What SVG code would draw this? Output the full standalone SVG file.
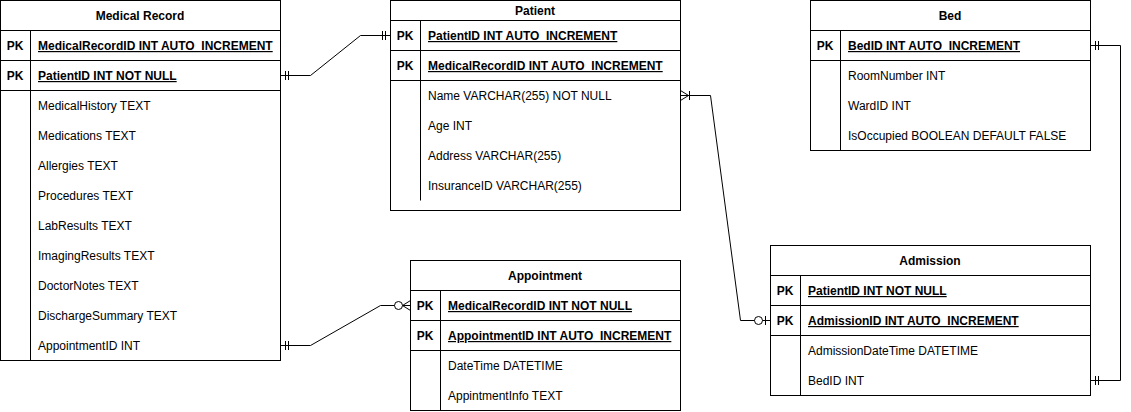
<svg xmlns="http://www.w3.org/2000/svg" width="1131" height="412" viewBox="0 0 1131 412">
<style>
.box{fill:#fff;stroke:#000;stroke-width:1}
.ln{fill:none;stroke:#000;stroke-width:1}
text{font-family:"Liberation Sans",Arial,sans-serif;font-size:12px;fill:#000}
.t{font-weight:bold;text-anchor:middle}
.pk{font-weight:bold;text-anchor:middle}
.k{font-weight:bold;text-decoration:underline}
.c{fill:none;stroke:#000;stroke-width:1}
</style>
<defs>
<marker id="mandOne" markerUnits="userSpaceOnUse" viewBox="-20 -10 22 20" refX="0" refY="0" markerWidth="22" markerHeight="20" orient="auto-start-reverse" overflow="visible">
<path d="M-5,-4.5V4.5M-8,-4.5V4.5" fill="none" stroke="#000" stroke-width="1"/>
</marker>
<marker id="oneMany" markerUnits="userSpaceOnUse" viewBox="-20 -10 22 20" refX="0" refY="0" markerWidth="22" markerHeight="20" orient="auto-start-reverse" overflow="visible">
<path d="M0,-5L-8,0L0,5M-9,-4.5V4.5" fill="none" stroke="#000" stroke-width="1"/>
</marker>
<marker id="zeroMany" markerUnits="userSpaceOnUse" viewBox="-20 -10 22 20" refX="0" refY="0" markerWidth="22" markerHeight="20" orient="auto-start-reverse" overflow="visible">
<path d="M0,-5L-8,0L0,5M-8,0H0" fill="none" stroke="#000" stroke-width="1"/>
<circle cx="-12" cy="0" r="4" fill="#fff" stroke="#000" stroke-width="1"/>
</marker>
<marker id="zeroOne" markerUnits="userSpaceOnUse" viewBox="-20 -10 22 20" refX="0" refY="0" markerWidth="22" markerHeight="20" orient="auto-start-reverse" overflow="visible">
<path d="M-5,-4.5V4.5" fill="none" stroke="#000" stroke-width="1"/>
<circle cx="-12" cy="0" r="4" fill="#fff" stroke="#000" stroke-width="1"/>
</marker>
</defs>

<g id="connectors">
<path class="c" d="M280.5,75.5H310.5L360.5,35.5H390.5" marker-start="url(#mandOne)" marker-end="url(#mandOne)"/>
<path class="c" d="M280.5,345.5H310.5L380.5,305.5H410.5" marker-start="url(#mandOne)" marker-end="url(#zeroMany)"/>
<path class="c" d="M680.5,95.5H710.5L740.5,320.5H770.5" marker-start="url(#oneMany)" marker-end="url(#zeroOne)"/>
<path class="c" d="M1090.5,45.5H1120.5V380.5H1090.5" marker-start="url(#mandOne)" marker-end="url(#mandOne)"/>
</g>

<g id="medical-record">
<rect class="box" x="0.5" y="0.5" width="280" height="360"/>
<path class="ln" d="M0.5,30.5H280.5M0.5,60.5H280.5M0.5,90.5H280.5M30.5,30.5V360.5"/>
<text class="t" x="140" y="20">Medical Record</text>
<text class="pk" x="15" y="50">PK</text>
<text class="k" x="38" y="50">MedicalRecordID INT AUTO_INCREMENT</text>
<text class="pk" x="15" y="80">PK</text>
<text class="k" x="38" y="80">PatientID INT NOT NULL</text>
<text x="38" y="110">MedicalHistory TEXT</text>
<text x="38" y="140">Medications TEXT</text>
<text x="38" y="170">Allergies TEXT</text>
<text x="38" y="200">Procedures TEXT</text>
<text x="38" y="230">LabResults TEXT</text>
<text x="38" y="260">ImagingResults TEXT</text>
<text x="38" y="290">DoctorNotes TEXT</text>
<text x="38" y="320">DischargeSummary TEXT</text>
<text x="38" y="350">AppointmentID INT</text>
</g>

<g id="patient">
<rect class="box" x="390.5" y="0.5" width="290" height="210"/>
<path class="ln" d="M390.5,20.5H680.5M390.5,50.5H680.5M390.5,80.5H680.5M420.5,20.5V200.5"/>
<text class="t" x="535" y="15">Patient</text>
<text class="pk" x="405" y="40">PK</text>
<text class="k" x="428" y="40">PatientID INT AUTO_INCREMENT</text>
<text class="pk" x="405" y="70">PK</text>
<text class="k" x="428" y="70">MedicalRecordID INT AUTO_INCREMENT</text>
<text x="428" y="100">Name VARCHAR(255) NOT NULL</text>
<text x="428" y="130">Age INT</text>
<text x="428" y="160">Address VARCHAR(255)</text>
<text x="428" y="190">InsuranceID VARCHAR(255)</text>
</g>

<g id="bed">
<rect class="box" x="810.5" y="0.5" width="280" height="150"/>
<path class="ln" d="M810.5,30.5H1090.5M810.5,60.5H1090.5M840.5,30.5V150.5"/>
<text class="t" x="950" y="20">Bed</text>
<text class="pk" x="825" y="50">PK</text>
<text class="k" x="848" y="50">BedID INT AUTO_INCREMENT</text>
<text x="848" y="80">RoomNumber INT</text>
<text x="848" y="110">WardID INT</text>
<text x="848" y="140">IsOccupied BOOLEAN DEFAULT FALSE</text>
</g>

<g id="appointment">
<rect class="box" x="410.5" y="260.5" width="270" height="150"/>
<path class="ln" d="M410.5,290.5H680.5M410.5,320.5H680.5M410.5,350.5H680.5M440.5,290.5V410.5"/>
<text class="t" x="545" y="280">Appointment</text>
<text class="pk" x="425" y="310">PK</text>
<text class="k" x="448" y="310">MedicalRecordID INT NOT NULL</text>
<text class="pk" x="425" y="340">PK</text>
<text class="k" x="448" y="340">AppointmentID INT AUTO_INCREMENT</text>
<text x="448" y="370">DateTime DATETIME</text>
<text x="448" y="400">AppintmentInfo TEXT</text>
</g>

<g id="admission">
<rect class="box" x="770.5" y="245.5" width="320" height="150"/>
<path class="ln" d="M770.5,275.5H1090.5M770.5,305.5H1090.5M770.5,335.5H1090.5M800.5,275.5V395.5"/>
<text class="t" x="930" y="265">Admission</text>
<text class="pk" x="785" y="295">PK</text>
<text class="k" x="808" y="295">PatientID INT NOT NULL</text>
<text class="pk" x="785" y="325">PK</text>
<text class="k" x="808" y="325">AdmissionID INT AUTO_INCREMENT</text>
<text x="808" y="355">AdmissionDateTime DATETIME</text>
<text x="808" y="385">BedID INT</text>
</g>
</svg>
